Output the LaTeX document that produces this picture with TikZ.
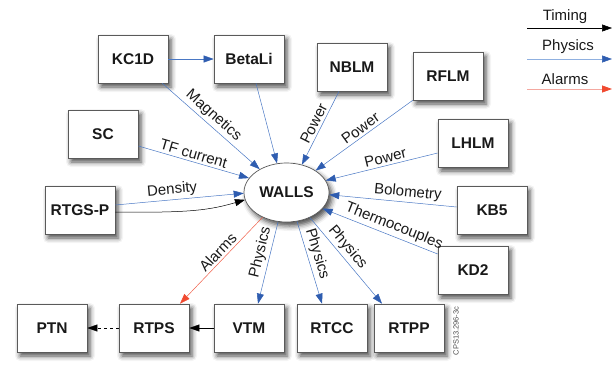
\documentclass[tikz,border=0pt]{standalone}
\usepackage{fontspec}
\setmainfont{Liberation Sans}
\usetikzlibrary{arrows.meta,shapes.geometric,shadows.blur}
\definecolor{physl}{HTML}{4A78C4}
\definecolor{physh}{HTML}{2F5DB0}
\definecolor{alarml}{HTML}{F0604A}
\definecolor{alarmh}{HTML}{F04A30}
\definecolor{legphys}{HTML}{8FB0E0}
\definecolor{legalarm}{HTML}{F4A8A0}
\definecolor{boxline}{HTML}{5A5A5A}
\tikzset{
 shad/.style={blur shadow={shadow xshift=3pt, shadow yshift=-4pt, shadow blur radius=5pt, shadow opacity=70}},
 box/.style={draw=boxline, line width=0.7pt, fill=white, minimum width=70pt, minimum height=48pt, inner sep=0pt, font=\fontsize{15.5}{18}\selectfont\bfseries, text=black!90, shad},
 wall/.style={ellipse, draw=boxline, line width=0.7pt, fill=white, minimum width=85pt, minimum height=59pt, inner sep=0pt, font=\fontsize{15.5}{18}\selectfont\bfseries, text=black!90, shad},
 physarrow/.style={draw=physl, line width=0.5pt, -{Triangle[length=10pt,width=7pt,color=physh]}},
 alarmarrow/.style={draw=alarml, line width=0.5pt, -{Triangle[length=10pt,width=7pt,color=alarmh]}},
 timearrow/.style={draw=black, line width=0.5pt, -{Triangle[length=10pt,width=7pt]}},
 lbl/.style={font=\fontsize{15}{18}\selectfont, text=black!90, sloped, above, inner sep=2.5pt},
 legtxt/.style={font=\fontsize{15}{18}\selectfont, text=black!90, inner sep=0pt}
}
\begin{document}
\begin{tikzpicture}[x=1pt,y=-1pt]
\useasboundingbox (0,0) rectangle (612,365);
% nodes
\node[box] (kc1d) at (133,59) {KC1D};
\node[box] (betali) at (249,59) {BetaLi};
\node[box] (nblm) at (352,67) {NBLM};
\node[box] (rflm) at (448,76) {RFLM};
\node[box] (lhlm) at (473,143) {LHLM};
\node[box] (sc) at (103,134) {SC};
\node[box] (rtgs) at (80,210) {RTGS-P};
\node[box] (kb5) at (492,210) {KB5};
\node[box] (kd2) at (473,270) {KD2};
\node[box] (ptn) at (52,328) {PTN};
\node[box] (rtps) at (154,328) {RTPS};
\node[box] (vtm) at (249,328) {VTM};
\node[box] (rtcc) at (332,328) {RTCC};
\node[box] (rtpp) at (409,328) {RTPP};
\node[wall] (walls) at (286.5,192.5) {WALLS};
% connectors
\draw[physarrow] (kc1d.east) -- (betali.west);
\draw[physarrow] ([xshift=-6pt]kc1d.south east) -- node[lbl,pos=0.46]{Magnetics} (walls.139);
\draw[physarrow] ([xshift=7pt]betali.south) -- (walls.108);
\draw[physarrow] ([xshift=-13pt]nblm.south) -- node[lbl,pos=0.49]{Power} (walls.61);
\draw[physarrow] (rflm.south west) -- node[lbl,pos=0.49]{Power} (walls.37);
\draw[physarrow] ([yshift=-10pt]lhlm.west) -- node[lbl,pos=0.45]{Power} (walls.17);
\draw[physarrow] ([yshift=-12pt]sc.east) -- node[lbl,pos=0.48]{TF current} (walls.159);
\draw[physarrow] ([yshift=5pt]rtgs.east) -- node[lbl,pos=0.45]{Density} (walls.181);
\draw[timearrow] ([yshift=-2pt]rtgs.east) .. controls (190,213) and (210,210) .. (walls.190);
\draw[physarrow] ([yshift=3pt]kb5.west) -- node[lbl,pos=0.39]{Bolometry} (walls.-3);
\draw[physarrow] ([yshift=16pt]kd2.west) -- node[lbl,pos=0.41]{Thermocouples} (walls.-24);
\draw[alarmarrow] (walls.226) -- node[lbl,pos=0.47]{Alarms} ([xshift=26pt]rtps.north);
\draw[physarrow] (walls.254) -- node[lbl,pos=0.4]{Physics} ([xshift=9pt]vtm.north);
\draw[physarrow] (walls.290) -- node[lbl,pos=0.43]{Physics} ([xshift=-10pt]rtcc.north);
\draw[physarrow] (walls.313) -- node[lbl,pos=0.42]{Physics} ([xshift=-27pt]rtpp.north);
\draw[timearrow] (vtm.west) -- (rtps.east);
\draw[timearrow, dashed] (rtps.west) -- (ptn.east);
% legend
\node[legtxt] (ltim) at (565,17) {Timing};
\node[legtxt] (lphy) at (568,47) {Physics};
\node[legtxt] (lal) at (565,79) {Alarms};
\coordinate (t1) at (527,28); \coordinate (t2) at (612,28);
\coordinate (p1) at (527,59); \coordinate (p2) at (612,59);
\coordinate (a1) at (527,89); \coordinate (a2) at (612,89);
\draw[timearrow] (t1) -- (t2);
\draw[draw=legphys, line width=0.6pt, -{Triangle[length=10pt,width=7pt,color=physh]}] (p1) -- (p2);
\draw[draw=legalarm, line width=0.8pt, -{Triangle[length=10pt,width=7pt,color=alarmh]}] (a1) -- (a2);
\node[rotate=90, font=\fontsize{7.5}{9}\selectfont, text=black!70, inner sep=0pt] (cps) at (456,331) {CPS13.296-3c};
\end{tikzpicture}
\end{document}
